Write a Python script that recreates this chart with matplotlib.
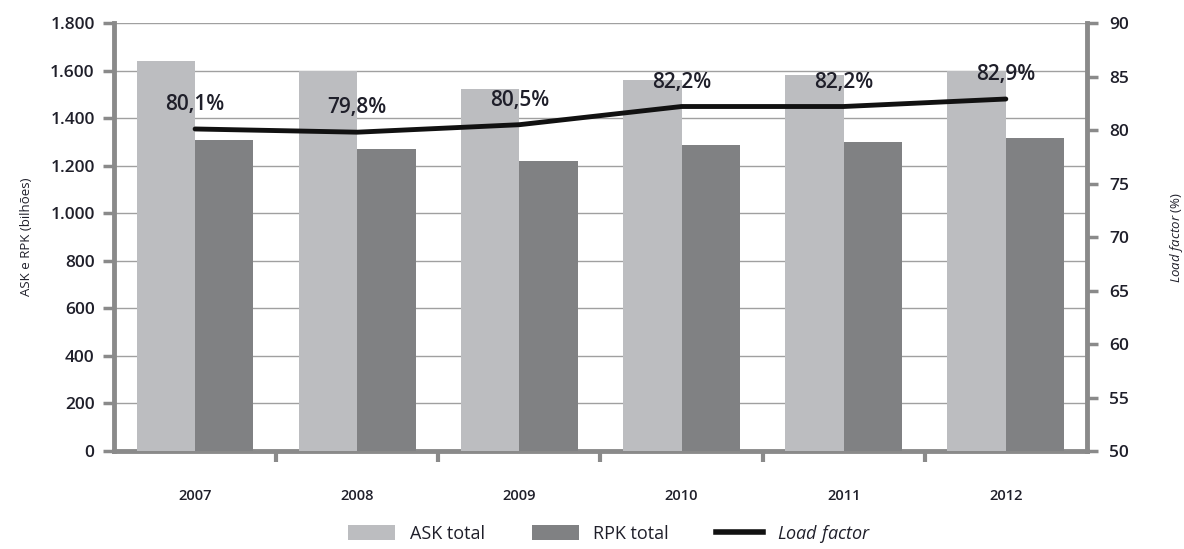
import numpy as np
import matplotlib
matplotlib.use("Agg")
import matplotlib.pyplot as plt
from matplotlib.patches import Patch
from matplotlib.lines import Line2D
from matplotlib.ticker import FuncFormatter

plt.rcParams["font.family"] = ["Open Sans", "DejaVu Sans"]
plt.rcParams["mathtext.fontset"] = "custom"
plt.rcParams["mathtext.it"] = "Open Sans:italic"
plt.rcParams["mathtext.rm"] = "Open Sans"

# ---------------------------------------------------------------------------
# Data
# ---------------------------------------------------------------------------
years = ["2007", "2008", "2009", "2010", "2011", "2012"]
ask_total = [1640, 1600, 1523, 1562, 1580, 1600]
rpk_total = [1310, 1271, 1220, 1285, 1298, 1318]
load_factor = [80.1, 79.8, 80.5, 82.2, 82.2, 82.9]

ASK_COL = "#bcbdc0"
RPK_COL = "#808183"
AXIS_COL = "#8a8a8a"
TEXT_COL = "#1f1f2a"

fig = plt.figure(figsize=(11.84, 5.49), dpi=100)
ax = fig.add_axes([0.0963, 0.1785, 0.8217, 0.7795])
ax2 = ax.twinx()

x = np.arange(len(years))
w = 0.36
ax.bar(x - w / 2, ask_total, w, color=ASK_COL, zorder=3)
ax.bar(x + w / 2, rpk_total, w, color=RPK_COL, zorder=3)

ax.set_xlim(-0.5, len(years) - 0.5)
ax.set_ylim(0, 1800)
ax.set_yticks(np.arange(0, 1801, 200))
ax.yaxis.set_major_formatter(FuncFormatter(lambda v, p: f"{int(v):,}".replace(",", ".")))
ax.grid(axis="y", color="#a0a0a0", linewidth=1.0, zorder=0)
ax.set_axisbelow(True)

# year labels between boundary ticks
ax.set_xticks(x)
ax.set_xticklabels(years, fontsize=10.5, color=TEXT_COL, fontweight="semibold")
ax.tick_params(axis="x", length=0, pad=27)
ax.set_xticks(np.arange(0.5, len(years) - 1, 1.0), minor=True)
ax.tick_params(axis="x", which="minor", length=8, width=3, color=AXIS_COL)

ax.tick_params(axis="y", labelsize=12.5, colors=TEXT_COL, length=8, width=2.5,
               color=AXIS_COL, pad=6)
for lbl in ax.get_yticklabels():
    lbl.set_fontweight("semibold")
ax.set_ylabel("ASK e RPK (bilhões)", fontsize=9.5, color=TEXT_COL, labelpad=12)

for side in ["top"]:
    ax.spines[side].set_visible(False)
    ax2.spines[side].set_visible(False)
for sp in ["left", "bottom"]:
    ax.spines[sp].set_color(AXIS_COL)
    ax.spines[sp].set_linewidth(3.5)
ax.spines["right"].set_visible(False)
ax2.spines["left"].set_visible(False)
ax2.spines["bottom"].set_visible(False)
ax2.spines["right"].set_color(AXIS_COL)
ax2.spines["right"].set_linewidth(3.5)

# load factor on secondary axis
ax2.plot(x, load_factor, color="#111111", linewidth=3.5, zorder=5,
         solid_capstyle="round")
for xi, v in zip(x, load_factor):
    ax2.text(xi, v + 1.3, f"{v:.1f}%".replace(".", ","), ha="center",
             va="bottom", fontsize=15, color=TEXT_COL, zorder=6,
             fontweight="semibold")
ax2.set_ylim(50, 90)
ax2.set_yticks(np.arange(50, 91, 5))
ax2.tick_params(axis="y", labelsize=12.5, colors=TEXT_COL, length=8, width=2.5,
                color=AXIS_COL, pad=8)
for lbl in ax2.get_yticklabels():
    lbl.set_fontweight("semibold")
ax2.set_ylabel(r"$\it{Load\ factor}$ (%)", fontsize=9.5, color=TEXT_COL,
               labelpad=28)

handles = [
    Patch(facecolor=ASK_COL, label="ASK total"),
    Patch(facecolor=RPK_COL, label="RPK total"),
    Line2D([0], [0], color="#111111", linewidth=4, label=r"$\it{Load\ factor}$"),
]
fig.legend(handles=handles, loc="lower center", bbox_to_anchor=(0.515, -0.022),
           ncol=3, frameon=False, fontsize=13, handlelength=2.6,
           handleheight=0.9, columnspacing=2.6, labelcolor=TEXT_COL)

fig.savefig("out.png", dpi=100, facecolor="white")
